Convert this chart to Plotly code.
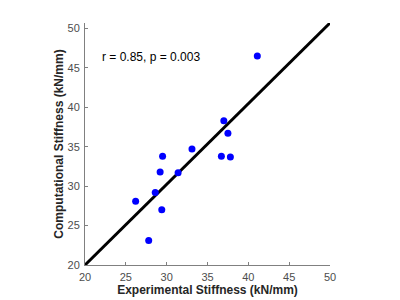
import plotly.graph_objects as go

exp_stiffness = [41.1, 37.0, 37.5, 33.1, 29.5, 36.7, 37.8, 29.2, 31.4, 28.6, 26.2, 29.4, 27.8]
comp_stiffness = [46.5, 38.3, 36.7, 34.7, 33.8, 33.8, 33.7, 31.8, 31.7, 29.2, 28.1, 27.0, 23.1]
line_x = [20, 50]
line_y = [20, 50.7]
x_ticks = [20, 25, 30, 35, 40, 45, 50]
y_ticks = [20, 25, 30, 35, 40, 45, 50]
stat_text = "r = 0.85, p = 0.003"

fig = go.Figure()
fig.add_trace(go.Scatter(x=line_x, y=line_y, mode="lines",
                         line=dict(color="black", width=3), showlegend=False))
fig.add_trace(go.Scatter(x=exp_stiffness, y=comp_stiffness, mode="markers",
                         marker=dict(color="#0000ff", size=7), showlegend=False))

axis_common = dict(showgrid=False, zeroline=False, showline=True, linecolor="#808080",
                   linewidth=1, ticks="inside", ticklen=3, tickcolor="#808080",
                   automargin=False,
                   tickfont=dict(family="Liberation Sans, Arial", size=11, color="#4d4d4d"))
fig.update_xaxes(range=[20, 50], tickvals=x_ticks, ticklabelstandoff=2,
                 title=dict(text="<b>Experimental Stiffness (kN/mm)</b>", standoff=1,
                            font=dict(family="Liberation Sans, Arial", size=12, color="#262626")),
                 **axis_common)
fig.update_yaxes(range=[20, 50.7], tickvals=y_ticks, ticklabelstandoff=2,
                 title=dict(text="<b>Computational Stiffness (kN/mm)</b>", standoff=1,
                            font=dict(family="Liberation Sans, Arial", size=12, color="#262626")),
                 **axis_common)
fig.add_annotation(x=0.06, y=0.86, xref="paper", yref="paper", xanchor="left", yanchor="middle",
                   text=stat_text, showarrow=False,
                   font=dict(family="Liberation Sans, Arial", size=12, color="black"))
fig.update_layout(width=400, height=300, margin=dict(l=77, r=78, t=15, b=43),
                  plot_bgcolor="white", paper_bgcolor="white")
fig.write_html("out.html")
